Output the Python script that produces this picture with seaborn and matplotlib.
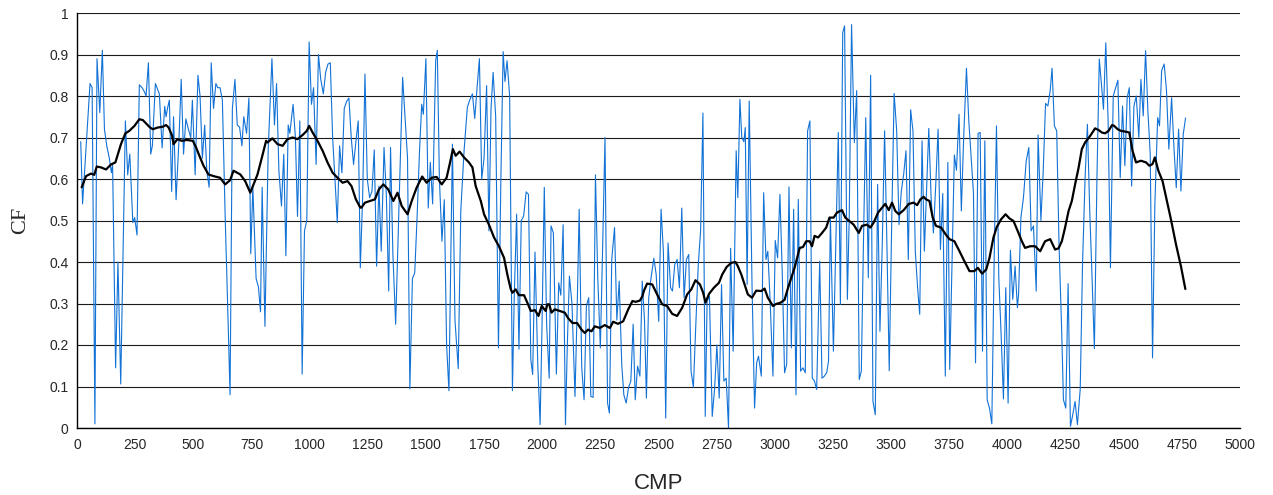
import matplotlib
matplotlib.use("Agg")
import matplotlib.pyplot as plt
import numpy as np
import pandas as pd
import seaborn as sns

# Raw CF values along the profile (blue trace)
cmp_raw = [
    16, 24, 56, 65, 77, 86, 98, 109, 118, 128, 139, 148, 153, 166, 176, 188, 208, 218, 227, 240,
    248, 258, 268, 280, 290, 297, 307, 317, 324, 337, 354, 366, 377, 383, 389, 397, 407, 415, 426, 438,
    448, 458, 468, 479, 489, 496, 508, 520, 529, 539, 549, 558, 568, 577, 587, 597, 605, 615, 625, 637,
    647, 658, 668, 679, 689, 699, 709, 717, 729, 739, 747, 756, 770, 780, 789, 796, 808, 822, 838, 849,
    858, 868, 879, 889, 898, 908, 915, 929, 939, 948, 958, 968, 978, 988, 998, 1008, 1017, 1028, 1038, 1048,
    1059, 1069, 1079, 1089, 1099, 1109, 1119, 1129, 1139, 1149, 1159, 1169, 1179, 1189, 1199, 1209, 1218, 1228, 1238, 1248,
    1258, 1268, 1278, 1288, 1298, 1308, 1320, 1330, 1340, 1348, 1358, 1370, 1400, 1410, 1421, 1431, 1442, 1452, 1462, 1472,
    1482, 1489, 1500, 1510, 1519, 1529, 1542, 1549, 1558, 1569, 1579, 1589, 1599, 1614, 1625, 1639, 1650, 1664, 1678, 1688,
    1700, 1710, 1720, 1730, 1740, 1750, 1761, 1771, 1780, 1789, 1800, 1812, 1822, 1832, 1840, 1849, 1860, 1872, 1880, 1890,
    1900, 1910, 1920, 1931, 1941, 1951, 1959, 1969, 1981, 1991, 1999, 2009, 2019, 2030, 2038, 2048, 2061, 2071, 2080, 2090,
    2100, 2108, 2117, 2128, 2141, 2150, 2159, 2170, 2180, 2190, 2200, 2209, 2219, 2229, 2239, 2250, 2260, 2270, 2281, 2289,
    2299, 2311, 2321, 2331, 2342, 2351, 2361, 2371, 2381, 2391, 2400, 2410, 2420, 2430, 2440, 2448, 2458, 2468, 2480, 2490,
    2501, 2511, 2521, 2531, 2541, 2552, 2560, 2570, 2580, 2590, 2600, 2610, 2620, 2630, 2640, 2650, 2661, 2671, 2681, 2691,
    2701, 2709, 2719, 2731, 2741, 2751, 2761, 2771, 2781, 2791, 2801, 2810, 2821, 2834, 2841, 2850, 2858, 2867, 2873, 2881,
    2890, 2902, 2913, 2922, 2930, 2942, 2952, 2962, 2970, 2980, 2992, 3002, 3012, 3022, 3032, 3042, 3051, 3061, 3071, 3081,
    3091, 3101, 3111, 3121, 3131, 3141, 3151, 3161, 3170, 3180, 3193, 3203, 3213, 3223, 3231, 3239, 3252, 3263, 3273, 3282,
    3292, 3300, 3312, 3320, 3330, 3342, 3352, 3363, 3372, 3381, 3391, 3402, 3412, 3422, 3432, 3442, 3452, 3462, 3472, 3482,
    3492, 3503, 3513, 3524, 3534, 3544, 3554, 3564, 3574, 3584, 3594, 3604, 3614, 3623, 3633, 3643, 3662, 3672, 3682, 3692,
    3702, 3712, 3722, 3733, 3744, 3752, 3762, 3772, 3781, 3792, 3802, 3812, 3824, 3834, 3844, 3854, 3863, 3874, 3883, 3893,
    3903, 3913, 3923, 3933, 3943, 3953, 3963, 3973, 3983, 3993, 4003, 4013, 4023, 4033, 4043, 4048, 4058, 4069, 4081, 4092,
    4102, 4112, 4124, 4132, 4144, 4154, 4164, 4174, 4184, 4192, 4202, 4212, 4222, 4233, 4241, 4251, 4261, 4271, 4281, 4291,
    4301, 4313, 4323, 4334, 4344, 4354, 4364, 4374, 4385, 4395, 4403, 4413, 4423, 4433, 4443, 4455, 4465, 4475, 4485, 4495,
    4505, 4515, 4524, 4534, 4544, 4554, 4565, 4574, 4584, 4594, 4604, 4614, 4624, 4634, 4646, 4654, 4663, 4674, 4684, 4694,
    4706, 4716, 4726, 4736, 4746, 4756, 4766,
]
cf_raw = [
    0.69, 0.54, 0.83, 0.82, 0.01, 0.89, 0.76, 0.91, 0.72, 0.68, 0.65, 0.615, 0.635, 0.145, 0.40, 0.106, 0.74, 0.61, 0.66, 0.495,
    0.507, 0.465, 0.827, 0.82, 0.81, 0.80, 0.88, 0.66, 0.68, 0.83, 0.805, 0.675, 0.775, 0.75, 0.77, 0.79, 0.57, 0.75, 0.55, 0.69,
    0.84, 0.66, 0.745, 0.72, 0.70, 0.79, 0.61, 0.85, 0.80, 0.65, 0.73, 0.62, 0.58, 0.88, 0.77, 0.83, 0.82, 0.82, 0.79, 0.51,
    0.31, 0.08, 0.77, 0.84, 0.73, 0.725, 0.68, 0.75, 0.71, 0.795, 0.42, 0.58, 0.36, 0.34, 0.28, 0.58, 0.245, 0.67, 0.89, 0.73,
    0.83, 0.62, 0.535, 0.66, 0.415, 0.73, 0.71, 0.78, 0.70, 0.51, 0.74, 0.13, 0.475, 0.50, 0.93, 0.78, 0.82, 0.635, 0.90, 0.84,
    0.805, 0.857, 0.877, 0.88, 0.70, 0.60, 0.495, 0.68, 0.615, 0.77, 0.787, 0.795, 0.70, 0.635, 0.69, 0.74, 0.386, 0.555, 0.853, 0.60,
    0.555, 0.57, 0.67, 0.39, 0.583, 0.426, 0.676, 0.56, 0.33, 0.676, 0.42, 0.25, 0.845, 0.75, 0.65, 0.094, 0.36, 0.374, 0.507, 0.66,
    0.78, 0.756, 0.89, 0.53, 0.64, 0.54, 0.885, 0.91, 0.60, 0.45, 0.55, 0.20, 0.09, 0.684, 0.26, 0.143, 0.523, 0.667, 0.772, 0.79,
    0.805, 0.746, 0.82, 0.89, 0.60, 0.65, 0.825, 0.475, 0.77, 0.857, 0.75, 0.193, 0.587, 0.907, 0.835, 0.885, 0.80, 0.09, 0.32, 0.515,
    0.19, 0.50, 0.51, 0.569, 0.563, 0.165, 0.129, 0.424, 0.153, 0.008, 0.24, 0.58, 0.25, 0.12, 0.487, 0.47, 0.13, 0.35, 0.32, 0.49,
    0.008, 0.20, 0.366, 0.30, 0.076, 0.28, 0.527, 0.145, 0.068, 0.294, 0.314, 0.076, 0.074, 0.61, 0.36, 0.193, 0.44, 0.70, 0.06, 0.036,
    0.406, 0.483, 0.26, 0.354, 0.153, 0.08, 0.06, 0.097, 0.113, 0.25, 0.068, 0.149, 0.125, 0.354, 0.257, 0.072, 0.314, 0.362, 0.409, 0.37,
    0.257, 0.527, 0.426, 0.024, 0.446, 0.338, 0.33, 0.394, 0.406, 0.338, 0.53, 0.314, 0.406, 0.418, 0.137, 0.098, 0.257, 0.394, 0.475, 0.759,
    0.028, 0.306, 0.318, 0.028, 0.093, 0.20, 0.072, 0.346, 0.113, 0.12, 0.0, 0.433, 0.185, 0.668, 0.555, 0.792, 0.70, 0.69, 0.724, 0.346,
    0.788, 0.346, 0.048, 0.157, 0.173, 0.125, 0.567, 0.406, 0.426, 0.306, 0.125, 0.452, 0.41, 0.563, 0.374, 0.133, 0.153, 0.581, 0.193, 0.527,
    0.08, 0.551, 0.137, 0.145, 0.133, 0.716, 0.74, 0.12, 0.114, 0.093, 0.402, 0.12, 0.125, 0.133, 0.161, 0.507, 0.185, 0.459, 0.712, 0.298,
    0.953, 0.969, 0.31, 0.507, 0.972, 0.688, 0.813, 0.117, 0.137, 0.442, 0.748, 0.362, 0.85, 0.064, 0.032, 0.587, 0.233, 0.442, 0.716, 0.442,
    0.138, 0.507, 0.806, 0.716, 0.49, 0.571, 0.611, 0.668, 0.406, 0.767, 0.716, 0.426, 0.338, 0.274, 0.692, 0.426, 0.722, 0.555, 0.47, 0.587,
    0.72, 0.43, 0.565, 0.125, 0.64, 0.141, 0.394, 0.658, 0.621, 0.756, 0.523, 0.70, 0.867, 0.74, 0.652, 0.567, 0.157, 0.71, 0.712, 0.185,
    0.692, 0.068, 0.048, 0.01, 0.402, 0.728, 0.362, 0.225, 0.07, 0.338, 0.06, 0.428, 0.31, 0.39, 0.29, 0.322, 0.507, 0.555, 0.644, 0.676,
    0.475, 0.487, 0.33, 0.706, 0.50, 0.62, 0.782, 0.776, 0.813, 0.867, 0.728, 0.716, 0.442, 0.241, 0.068, 0.048, 0.348, 0.004, 0.032, 0.064,
    0.008, 0.093, 0.394, 0.603, 0.732, 0.523, 0.362, 0.191, 0.603, 0.889, 0.837, 0.768, 0.928, 0.74, 0.386, 0.80, 0.819, 0.838, 0.603, 0.776,
    0.632, 0.796, 0.82, 0.583, 0.776, 0.80, 0.70, 0.84, 0.752, 0.909, 0.764, 0.66, 0.169, 0.539, 0.748, 0.728, 0.861, 0.877, 0.813, 0.672,
    0.796, 0.676, 0.579, 0.72, 0.571, 0.708, 0.747,
]

# Smoothed CF trend (black curve)
cmp_smooth = [
    20, 39, 60, 74, 85, 103, 125, 146, 165, 176, 189, 208, 225, 247, 268, 283, 300, 314, 326, 347,
    369, 383, 394, 409, 415, 432, 450, 472, 498, 512, 529, 544, 565, 587, 615, 637, 658, 673, 702, 723,
    745, 759, 776, 795, 813, 819, 840, 862, 884, 905, 927, 948, 970, 988, 998, 1013, 1034, 1056, 1077, 1099,
    1120, 1142, 1163, 1180, 1199, 1218, 1223, 1238, 1259, 1281, 1298, 1317, 1338, 1360, 1378, 1396, 1421, 1439, 1460, 1484,
    1503, 1525, 1546, 1568, 1589, 1604, 1616, 1628, 1645, 1664, 1685, 1700, 1714, 1736, 1750, 1771, 1793, 1814, 1836, 1850,
    1865, 1872, 1886, 1900, 1922, 1936, 1951, 1969, 1984, 1998, 2015, 2022, 2030, 2040, 2054, 2076, 2097, 2111, 2130, 2150,
    2169, 2183, 2197, 2212, 2226, 2248, 2269, 2291, 2305, 2326, 2348, 2370, 2388, 2402, 2420, 2431, 2437, 2451, 2473, 2494,
    2516, 2537, 2559, 2580, 2602, 2623, 2641, 2659, 2678, 2692, 2702, 2717, 2738, 2760, 2774, 2793, 2813, 2831, 2841, 2856,
    2870, 2884, 2902, 2920, 2942, 2956, 2970, 2992, 3006, 3025, 3042, 3057, 3071, 3085, 3107, 3121, 3135, 3150, 3160, 3171,
    3186, 3203, 3221, 3235, 3253, 3267, 3289, 3303, 3320, 3339, 3361, 3375, 3396, 3411, 3425, 3444, 3461, 3475, 3490, 3504,
    3518, 3533, 3554, 3576, 3597, 3612, 3626, 3640, 3650, 3665, 3679, 3693, 3715, 3734, 3751, 3772, 3794, 3815, 3837, 3858,
    3873, 3891, 3909, 3923, 3940, 3954, 3973, 3992, 4009, 4026, 4044, 4062, 4076, 4098, 4119, 4141, 4162, 4184, 4205, 4220,
    4234, 4248, 4263, 4277, 4291, 4306, 4320, 4334, 4356, 4377, 4392, 4406, 4420, 4435, 4450, 4459, 4474, 4488, 4509, 4524,
    4538, 4553, 4574, 4596, 4610, 4624, 4634, 4649, 4667, 4686, 4703, 4725, 4746, 4765,
]
cf_smooth = [
    0.58, 0.607, 0.613, 0.61, 0.63, 0.628, 0.623, 0.635, 0.64, 0.66, 0.684, 0.71, 0.716, 0.728, 0.744, 0.742, 0.732, 0.724, 0.72, 0.724,
    0.726, 0.73, 0.724, 0.704, 0.684, 0.696, 0.692, 0.694, 0.692, 0.676, 0.652, 0.632, 0.611, 0.607, 0.603, 0.587, 0.597, 0.62, 0.611, 0.595,
    0.567, 0.587, 0.611, 0.652, 0.692, 0.688, 0.698, 0.684, 0.68, 0.696, 0.70, 0.696, 0.706, 0.716, 0.728, 0.712, 0.692, 0.668, 0.64, 0.615,
    0.603, 0.591, 0.595, 0.583, 0.551, 0.531, 0.531, 0.543, 0.547, 0.551, 0.575, 0.587, 0.575, 0.547, 0.567, 0.535, 0.515, 0.547, 0.579, 0.606,
    0.591, 0.603, 0.605, 0.587, 0.603, 0.64, 0.672, 0.656, 0.666, 0.652, 0.64, 0.628, 0.583, 0.547, 0.515, 0.49, 0.459, 0.438, 0.41, 0.37,
    0.334, 0.326, 0.334, 0.32, 0.32, 0.302, 0.282, 0.284, 0.27, 0.294, 0.282, 0.298, 0.298, 0.278, 0.286, 0.282, 0.278, 0.265, 0.253, 0.253,
    0.237, 0.229, 0.237, 0.233, 0.245, 0.241, 0.248, 0.241, 0.256, 0.251, 0.257, 0.286, 0.306, 0.304, 0.307, 0.318, 0.33, 0.348, 0.346, 0.322,
    0.298, 0.294, 0.275, 0.27, 0.29, 0.322, 0.334, 0.356, 0.346, 0.326, 0.302, 0.323, 0.338, 0.35, 0.37, 0.388, 0.398, 0.40, 0.39, 0.37,
    0.346, 0.322, 0.314, 0.331, 0.33, 0.336, 0.314, 0.294, 0.299, 0.302, 0.309, 0.338, 0.362, 0.386, 0.434, 0.436, 0.45, 0.45, 0.438, 0.463,
    0.459, 0.47, 0.483, 0.507, 0.507, 0.519, 0.525, 0.507, 0.499, 0.49, 0.47, 0.487, 0.49, 0.483, 0.495, 0.519, 0.531, 0.54, 0.525, 0.543,
    0.523, 0.515, 0.525, 0.54, 0.543, 0.537, 0.551, 0.557, 0.551, 0.547, 0.507, 0.487, 0.483, 0.467, 0.455, 0.45, 0.426, 0.402, 0.378, 0.378,
    0.386, 0.372, 0.382, 0.41, 0.459, 0.484, 0.503, 0.515, 0.505, 0.499, 0.475, 0.45, 0.434, 0.438, 0.438, 0.426, 0.45, 0.455, 0.43, 0.433,
    0.45, 0.483, 0.523, 0.547, 0.587, 0.627, 0.672, 0.688, 0.704, 0.722, 0.718, 0.712, 0.71, 0.716, 0.73, 0.728, 0.72, 0.716, 0.714, 0.712,
    0.668, 0.64, 0.644, 0.64, 0.632, 0.636, 0.652, 0.62, 0.595, 0.547, 0.503, 0.442, 0.39, 0.335,
]

x_ticks = list(range(0, 5001, 250))
y_ticks = [0, 0.1, 0.2, 0.3, 0.4, 0.5, 0.6, 0.7, 0.8, 0.9, 1]
y_tick_labels = ["0", "0.1", "0.2", "0.3", "0.4", "0.5", "0.6", "0.7", "0.8", "0.9", "1"]

raw_df = pd.DataFrame({"CMP": cmp_raw, "CF": cf_raw})
smooth_df = pd.DataFrame({"CMP": cmp_smooth, "CF": cf_smooth})

sns.set_style("white")
plt.rcParams["font.family"] = ["Liberation Sans", "DejaVu Sans"]

fig = plt.figure(figsize=(12.73, 4.95), dpi=100)
ax = fig.add_axes([77 / 1273, 1 - 428 / 495, (1240 - 77) / 1273, (428 - 13) / 495])

# horizontal grid lines
for yv in y_ticks:
    ax.axhline(yv, color="#1a1a1a", lw=0.8, zorder=0)

sns.lineplot(data=raw_df, x="CMP", y="CF", ax=ax, color="#1272d6", lw=0.8,
             estimator=None, sort=False, zorder=2)
sns.lineplot(data=smooth_df, x="CMP", y="CF", ax=ax, color="black", lw=1.6,
             estimator=None, sort=False, zorder=3)

ax.set_xlim(0, 5000)
ax.set_ylim(0, 1)
ax.set_xticks(x_ticks)
ax.set_xticklabels([str(t) for t in x_ticks], fontsize=10)
ax.set_yticks(y_ticks)
ax.set_yticklabels(y_tick_labels, fontsize=10)
ax.tick_params(axis="x", direction="out", length=4, width=0.8, color="black", pad=3)
ax.tick_params(axis="y", direction="out", length=0, pad=6)

for side in ["top", "right"]:
    ax.spines[side].set_visible(False)
for side in ["left", "bottom"]:
    ax.spines[side].set_color("black")
    ax.spines[side].set_linewidth(1.0)

ax.set_xlabel("CMP", fontsize=16, labelpad=15)
ax.set_ylabel("CF", fontsize=16, family=["Liberation Serif", "DejaVu Serif"], labelpad=14)

fig.savefig("out.png", dpi=100)
